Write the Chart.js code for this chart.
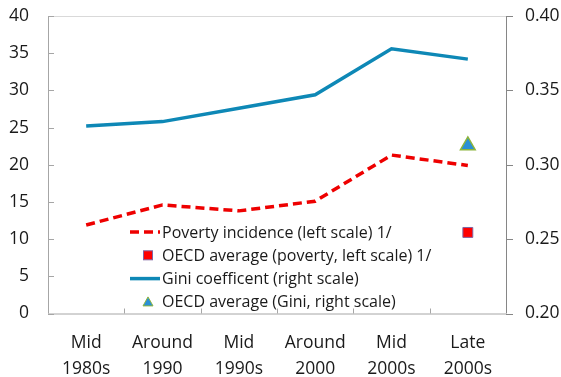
<!DOCTYPE html>
<html>
<head>
<meta charset="utf-8">
<script src="https://cdn.jsdelivr.net/npm/chart.js@4"></script>
<style>
  html, body { margin: 0; padding: 0; background: #fff; }
  #wrap { width: 561px; height: 377px; position: relative; }
</style>
</head>
<body>
<div id="wrap"><canvas id="chart"></canvas></div>
<script>
const categories = [["Mid", "1980s"], ["Around", "1990"], ["Mid", "1990s"], ["Around", "2000"], ["Mid", "2000s"], ["Late", "2000s"]];
const poverty = [11.9, 14.6, 13.8, 15.1, 21.3, 19.9];
const oecdPoverty = [null, null, null, null, null, 10.9];
const gini = [0.326, 0.329, 0.338, 0.347, 0.378, 0.371];
const oecdGini = [null, null, null, null, null, 0.313];
const leftTicks = [0, 5, 10, 15, 20, 25, 30, 35, 40];
const rightTicks = [0.20, 0.25, 0.30, 0.35, 0.40];

const FONT = "'Open Sans', 'Noto Sans', sans-serif";

function noPad(s) {
  s.paddingTop = 0;
  s.paddingBottom = 0;
  s.paddingLeft = 0;
  s.paddingRight = 0;
}

// axis lines, tick marks and the top border line (Excel style)
const axesPlugin = {
  id: "axes",
  beforeDatasetsDraw(chart) {
    const { ctx, chartArea: a, scales } = chart;
    ctx.save();
    ctx.lineWidth = 1;
    // top border
    ctx.strokeStyle = "#d9d9d9";
    ctx.beginPath();
    ctx.moveTo(a.left, a.top + 0.5);
    ctx.lineTo(a.right, a.top + 0.5);
    ctx.stroke();
    // left axis + inward ticks
    ctx.strokeStyle = "#a6a6a6";
    ctx.beginPath();
    ctx.moveTo(a.left + 0.5, a.top);
    ctx.lineTo(a.left + 0.5, a.bottom);
    leftTicks.forEach(v => {
      const y = Math.round(scales.y.getPixelForValue(v)) + 0.5;
      ctx.moveTo(a.left, y);
      ctx.lineTo(a.left + 6, y);
    });
    // bottom axis + ticks between categories
    ctx.moveTo(a.left, a.bottom + 0.5);
    ctx.lineTo(a.right, a.bottom + 0.5);
    for (let i = 1; i < categories.length; i++) {
      const x = Math.round((scales.x.getPixelForValue(i - 1) + scales.x.getPixelForValue(i)) / 2) + 0.5;
      ctx.moveTo(x, a.bottom);
      ctx.lineTo(x, a.bottom - 5);
    }
    ctx.stroke();
    // right axis + outward ticks
    ctx.strokeStyle = "#868686";
    ctx.beginPath();
    ctx.moveTo(a.right + 0.5, a.top);
    ctx.lineTo(a.right + 0.5, a.bottom);
    rightTicks.forEach(v => {
      const y = Math.round(scales.y2.getPixelForValue(v)) + 0.5;
      ctx.moveTo(a.right, y);
      ctx.lineTo(a.right + 7, y);
    });
    ctx.stroke();
    ctx.restore();
  }
};

// legend inside the plot area
const legendPlugin = {
  id: "insideLegend",
  afterDraw(chart) {
    const { ctx } = chart;
    const x0 = 130, y0 = 232, rowH = 23.3, textX = 162;
    ctx.save();
    ctx.font = "16px " + FONT;
    ctx.textBaseline = "middle";
    chart.data.datasets.forEach((ds, i) => {
      const y = y0 + i * rowH;
      if (ds.showLine === false) {
        ctx.fillStyle = ds.backgroundColor;
        ctx.strokeStyle = ds.borderColor;
        ctx.lineWidth = 1;
        const cx = 148;
        if (ds.pointStyle === "rect") {
          ctx.fillRect(cx - 4.5, y - 4.5, 9, 9);
          ctx.strokeRect(cx - 4.5, y - 4.5, 9, 9);
        } else {
          ctx.beginPath();
          ctx.moveTo(cx, y - 5);
          ctx.lineTo(cx + 5, y + 4);
          ctx.lineTo(cx - 5, y + 4);
          ctx.closePath();
          ctx.fill();
          ctx.stroke();
        }
      } else {
        ctx.strokeStyle = ds.borderColor;
        ctx.lineWidth = ds.borderWidth;
        ctx.setLineDash(ds.borderDash || []);
        ctx.beginPath();
        ctx.moveTo(x0, y);
        ctx.lineTo(x0 + 30, y);
        ctx.stroke();
        ctx.setLineDash([]);
      }
      ctx.fillStyle = "#1a1a1a";
      ctx.fillText(ds.label, textX, y + 1);
    });
    ctx.restore();
  }
};

new Chart(document.getElementById("chart"), {
  type: "line",
  data: {
    labels: categories,
    datasets: [
      {
        label: "Poverty incidence (left scale) 1/",
        data: poverty,
        yAxisID: "y",
        borderColor: "#ee0000",
        borderWidth: 3.5,
        borderDash: [9, 5],
        pointRadius: 0,
        tension: 0
      },
      {
        label: "OECD average (poverty, left scale) 1/",
        data: oecdPoverty,
        yAxisID: "y",
        showLine: false,
        pointStyle: "rect",
        pointRadius: 7,
        backgroundColor: "#ff0000",
        borderColor: "#8064a2",
        borderWidth: 1
      },
      {
        label: "Gini coefficent (right scale)",
        data: gini,
        yAxisID: "y2",
        borderColor: "#0e88b6",
        borderWidth: 3.5,
        pointRadius: 0,
        tension: 0
      },
      {
        label: "OECD average (Gini, right scale)",
        data: oecdGini,
        yAxisID: "y2",
        showLine: false,
        pointStyle: "triangle",
        pointRadius: 8.5,
        backgroundColor: "#2a8fd6",
        borderColor: "#8cb43c",
        borderWidth: 1.5
      }
    ]
  },
  options: {
    responsive: true,
    maintainAspectRatio: false,
    animation: false,
    layout: { padding: { top: 16, left: 0, right: 0, bottom: 0 } },
    plugins: {
      legend: { display: false },
      tooltip: { enabled: false }
    },
    scales: {
      x: {
        offset: true,
        grid: { display: false, drawTicks: false },
        border: { display: false },
        ticks: {
          color: "#1a1a1a",
          font: { family: FONT, size: 17.5, lineHeight: 1.43 },
          padding: 17.5,
          maxRotation: 0,
          autoSkip: false
        },
        afterFit(s) { s.height = 63.5; noPad(s); }
      },
      y: {
        position: "left",
        min: 0,
        max: 40,
        afterBuildTicks(s) { s.ticks = leftTicks.map(v => ({ value: v })); },
        grid: { display: false, drawTicks: false },
        border: { display: false },
        ticks: {
          color: "#1a1a1a",
          font: { family: FONT, size: 17.5 },
          padding: 19
        },
        afterFit(s) { s.width = 48; noPad(s); }
      },
      y2: {
        position: "right",
        min: 0.2,
        max: 0.4,
        afterBuildTicks(s) { s.ticks = rightTicks.map(v => ({ value: v })); },
        grid: { display: false, drawTicks: false },
        border: { display: false },
        ticks: {
          color: "#1a1a1a",
          font: { family: FONT, size: 17.5 },
          padding: 19,
          callback: v => v.toFixed(2)
        },
        afterFit(s) { s.width = 55; noPad(s); }
      }
    }
  },
  plugins: [axesPlugin, legendPlugin]
});
</script>
</body>
</html>
